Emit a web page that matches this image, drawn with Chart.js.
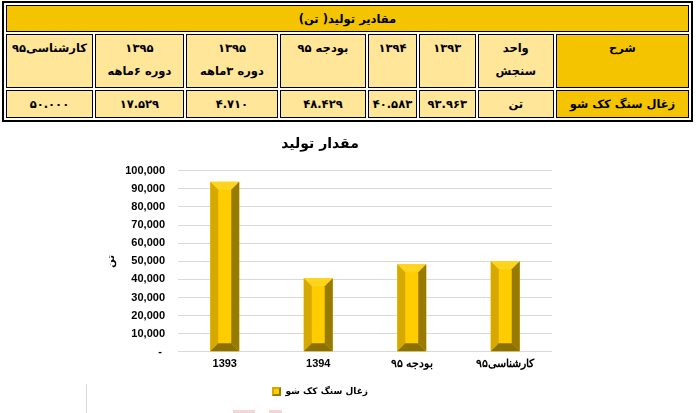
<!DOCTYPE html>
<html>
<head>
<meta charset="utf-8">
<script src="https://cdn.jsdelivr.net/npm/chart.js@4/dist/chart.umd.min.js"></script>
<style>
  body { margin: 0; background: #fff; width: 696px; height: 413px; overflow: hidden; position: relative; }
  #tbl {
    position: absolute; left: 2px; top: 1px; width: 691px;
    border: 2px solid #000; border-spacing: 2px; direction: rtl;
    font-family: "DejaVu Sans", sans-serif; font-weight: bold; font-size: 11.5px; color: #000;
  }
  #tbl td { border: 1px solid #000; background: #ffe699; text-align: center; padding: 0; }
  #tbl td.gold { background: #f5c400; }
  #tbl tr.title td { height: 25px; }
  #tbl tr.head td { height: 50px; vertical-align: top; padding-top: 2px; line-height: 23px; }
  #tbl tr.data td { height: 26px; }
  #wrap { position: absolute; left: 88px; top: 128px; width: 520px; height: 278px; }
  .mark { position: absolute; }
</style>
</head>
<body>
<table id="tbl">
  <tr class="title"><td class="gold" colspan="8" id="tblTitle"></td></tr>
  <tr class="head" id="headRow"></tr>
  <tr class="data" id="dataRow"></tr>
</table>
<div id="wrap"><canvas id="chart"></canvas></div>
<div class="mark" style="left:86px;top:384px;width:1px;height:29px;background:#d9d9d9"></div>
<div class="mark" style="left:233px;top:410px;width:22px;height:3px;background:#f9d4d4"></div>
<div class="mark" style="left:269px;top:410px;width:13px;height:3px;background:#f9d4d4"></div>
<script>
// table data (right to left)
const tableTitle = "مقادیر تولید( تن)";
const headers = ["شرح", "واحد<br>سنجش", "۱۳۹۳", "۱۳۹۴", "بودجه ۹۵", "۱۳۹۵<br>دوره ۳ماهه", "۱۳۹۵<br>دوره ۶ماهه", "کارشناسی۹۵"];
const rowValues = ["زغال سنگ کک شو", "تن", "۹۳.۹۶۳", "۴۰.۵۸۳", "۴۸.۴۲۹", "۴.۷۱۰", "۱۷.۵۲۹", "۵۰.۰۰۰"];
const colWidths = [133, 75, 55, 47, 85, 91, 88, 85];

// chart data
const chartTitle = "مقدار تولید";
const categories = ["1393", "1394", "بودجه ۹۵", "کارشناسی۹۵"];
const production = [93963, 40583, 48429, 50000];
const seriesName = "زغال سنگ کک شو";
const yTitle = "تن";

document.getElementById("tblTitle").textContent = tableTitle;
const headRow = document.getElementById("headRow");
headers.forEach((h, i) => {
  const td = document.createElement("td");
  td.innerHTML = h;
  td.style.width = colWidths[i] + "px";
  if (i === 0) td.className = "gold";
  headRow.appendChild(td);
});
const dataRow = document.getElementById("dataRow");
rowValues.forEach((v, i) => {
  const td = document.createElement("td");
  td.textContent = v;
  if (i === 0) td.className = "gold";
  dataRow.appendChild(td);
});

// colours of the bevelled bar faces
const faceMid = "#ffcc00";
const faceTop = "#ffd41c";
const faceLeft = "#d6a900";
const faceRight = "#977a00";
const faceBottom = "#8c7100";

function legendSwatch() {
  const c = document.createElement("canvas");
  c.width = 9; c.height = 9;
  const g = c.getContext("2d");
  g.fillStyle = faceLeft; g.fillRect(0, 0, 9, 9);
  g.fillStyle = faceRight;
  g.beginPath(); g.moveTo(9, 0); g.lineTo(9, 9); g.lineTo(0, 9); g.closePath(); g.fill();
  g.fillStyle = faceMid; g.fillRect(2, 2, 5, 5);
  return c;
}

const bevelPlugin = {
  id: "bevel",
  afterDatasetsDraw(chart) {
    const ctx = chart.ctx;
    const meta = chart.getDatasetMeta(0);
    meta.data.forEach(bar => {
      const p = bar.getProps(["x", "y", "base", "width"], true);
      const l = p.x - p.width / 2, r = p.x + p.width / 2, t = p.y, b = p.base;
      const d = Math.min(8, (b - t) / 2);
      const poly = (pts, col) => {
        ctx.fillStyle = col;
        ctx.beginPath();
        ctx.moveTo(pts[0][0], pts[0][1]);
        pts.slice(1).forEach(q => ctx.lineTo(q[0], q[1]));
        ctx.closePath();
        ctx.fill();
      };
      ctx.save();
      poly([[l + d, t + d], [r - d, t + d], [r - d, b - d], [l + d, b - d]], faceMid);
      poly([[l, t], [r, t], [r - d, t + d], [l + d, t + d]], faceTop);
      poly([[l, t], [l + d, t + d], [l + d, b - d], [l, b]], faceLeft);
      poly([[r, t], [r, b], [r - d, b - d], [r - d, t + d]], faceRight);
      poly([[l, b], [l + d, b - d], [r - d, b - d], [r, b]], faceBottom);
      ctx.restore();
    });
  }
};

new Chart(document.getElementById("chart"), {
  type: "bar",
  data: {
    labels: categories,
    datasets: [{
      label: seriesName,
      data: production,
      backgroundColor: faceMid,
      borderWidth: 0,
      barPercentage: 0.5,
      categoryPercentage: 0.62,
      pointStyle: legendSwatch()
    }]
  },
  options: {
    responsive: true,
    maintainAspectRatio: false,
    animation: false,
    layout: { padding: { left: 0, right: 56, top: 0, bottom: 0 } },
    plugins: {
      title: {
        display: true,
        text: chartTitle,
        color: "#000",
        font: { family: "DejaVu Sans", size: 14, weight: "bold" },
        padding: { top: 8, bottom: 18 }
      },
      legend: {
        position: "bottom",
        labels: {
          usePointStyle: true,
          color: "#000",
          font: { family: "DejaVu Sans", size: 9, weight: "bold" },
          padding: 10
        }
      },
      tooltip: { enabled: false }
    },
    scales: {
      x: {
        grid: { display: false, drawTicks: false },
        border: { display: false },
        ticks: {
          color: "#000",
          padding: 6,
          font: { family: "Liberation Sans", size: 11, weight: "bold" }
        }
      },
      y: {
        min: 0,
        max: 100000,
        afterFit(scale) { scale.width = 90; },
        grid: { color: "#d9d9d9", drawTicks: false },
        border: { display: false },
        ticks: {
          stepSize: 10000,
          padding: 13,
          color: "#000",
          font: { family: "Liberation Sans", size: 11, weight: "bold" },
          callback: v => v === 0 ? "- " : v.toLocaleString("en-US")
        },
        title: {
          display: true,
          text: yTitle,
          color: "#000",
          font: { family: "DejaVu Sans", size: 10, weight: "bold" },
          padding: { top: 17, bottom: 0 }
        }
      }
    }
  },
  plugins: [bevelPlugin]
});
</script>
</body>
</html>
